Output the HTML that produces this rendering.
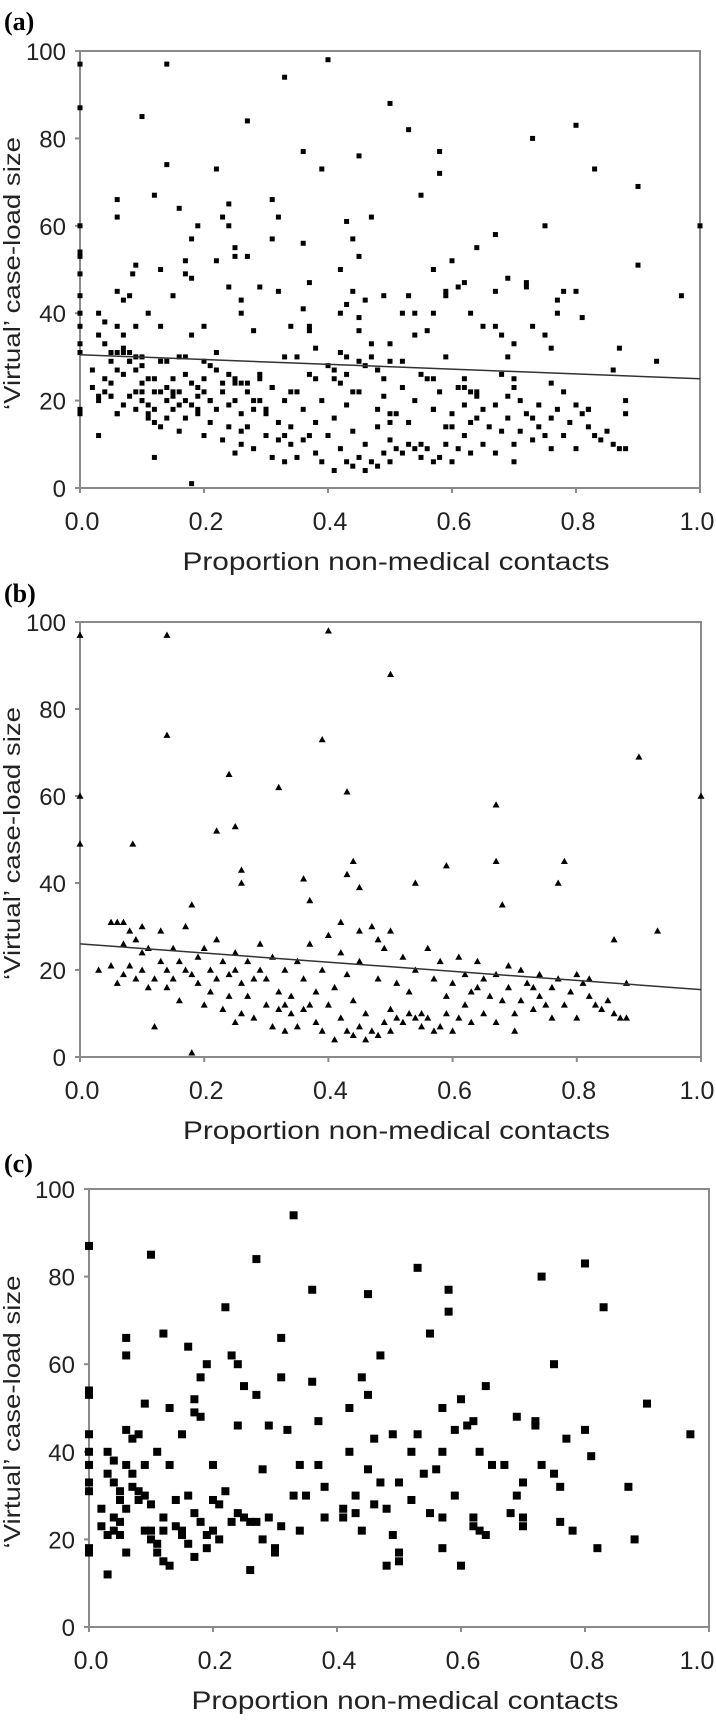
<!DOCTYPE html>
<html><head><meta charset="utf-8"><style>
html,body{margin:0;padding:0;background:#fff;}
svg{display:block;font-family:"Liberation Sans",sans-serif;}
</style></head><body>
<svg id="fig" width="716" height="1720" viewBox="0 0 716 1720" xmlns="http://www.w3.org/2000/svg"></svg>
<script>
// ---- data: panel (b) non-medical low-load series (triangles) ----
const bX = [0,0,0,0.14,0.14,0.40,0.39,0.50,0.90,1.0,0.93,0.085,0.24,0.22,0.25,0.26,0.26,0.32,0.36,0.43,0.44,0.43,0.45,0.54,0.59,0.67,0.67,0.68,0.78,0.77,0.18,0.37,0.42,0.86,
0.03,0.05,0.05,0.06,0.06,0.07,0.07,0.07,0.08,0.08,0.09,0.09,0.10,0.10,0.10,0.11,0.11,0.12,0.12,0.13,0.13,0.14,0.14,0.15,0.15,0.16,0.16,0.17,0.17,0.18,0.18,0.19,0.19,0.20,0.20,0.21,0.21,0.22,0.22,0.23,0.23,0.24,0.24,0.25,0.25,0.25,0.26,0.26,0.27,0.27,0.28,0.28,0.29,0.29,0.30,0.30,0.31,0.31,0.32,0.32,0.33,0.33,0.33,0.34,0.34,0.35,0.35,0.36,0.36,0.37,0.37,0.38,0.38,0.39,0.39,0.40,0.40,0.41,0.41,0.42,0.42,0.43,0.43,0.44,0.44,0.45,0.45,0.45,0.46,0.46,0.47,0.47,0.48,0.48,0.48,0.49,0.49,0.50,0.50,0.50,0.51,0.51,0.52,0.52,0.53,0.53,0.54,0.54,0.55,0.55,0.56,0.56,0.57,0.57,0.58,0.58,0.59,0.59,0.60,0.60,0.61,0.61,0.62,0.62,0.63,0.63,0.64,0.64,0.65,0.65,0.66,0.67,0.67,0.68,0.69,0.69,0.70,0.70,0.71,0.71,0.72,0.73,0.73,0.74,0.74,0.75,0.76,0.76,0.77,0.78,0.79,0.80,0.80,0.81,0.82,0.82,0.83,0.84,0.85,0.86,0.87,0.88,0.88];
const bY = [97,60,49,97,74,98,73,88,69,60,29,49,65,52,53,43,40,62,41,61,45,42,39,40,44,58,45,35,45,40,35,36,31,27,
20,21,31,17,31,26,31,19,29,21,18,27,24,20,30,16,25,7,18,22,29,20,16,25,18,22,13,30,20,1,19,17,23,25,12,20,15,18,27,11,22,14,19,8,20,24,17,10,22,14,18,9,20,26,12,18,7,23,15,11,12,20,6,14,10,22,7,18,11,12,26,15,8,6,20,12,28,4,16,9,24,6,19,5,13,7,29,22,4,10,6,30,5,18,27,8,25,6,11,29,9,17,8,23,10,15,9,20,7,10,9,25,6,18,7,22,10,14,6,17,9,23,12,19,15,8,22,16,18,10,14,19,8,13,16,21,10,6,13,20,17,11,16,14,19,12,16,9,18,12,15,19,9,17,14,18,12,11,13,10,9,17,9];
// ---- data: panel (c) medical series (squares) ----
const cX = [0,0,0,0,0,0,0,0,0,0,0.02,0.02,0.03,0.03,0.03,0.03,0.04,0.04,0.04,0.04,0.05,0.05,0.05,0.05,0.06,0.06,0.06,0.06,0.06,0.06,0.07,0.07,0.07,0.08,0.08,0.08,0.09,0.09,0.09,0.09,0.10,0.10,0.10,0.10,0.11,0.11,0.11,0.12,0.12,0.12,0.12,0.13,0.13,0.13,0.14,0.14,0.15,0.15,0.15,0.16,0.16,0.16,0.17,0.17,0.17,0.17,0.18,0.18,0.18,0.19,0.19,0.19,0.20,0.20,0.20,0.21,0.21,0.22,0.22,0.23,0.23,0.24,0.24,0.24,0.25,0.25,0.26,0.26,0.27,0.27,0.27,0.28,0.28,0.29,0.29,0.30,0.30,0.31,0.31,0.31,0.32,0.33,0.33,0.34,0.34,0.35,0.36,0.36,0.37,0.37,0.38,0.38,0.41,0.41,0.42,0.42,0.43,0.43,0.44,0.44,0.45,0.45,0.45,0.46,0.46,0.47,0.47,0.48,0.48,0.49,0.49,0.50,0.50,0.50,0.52,0.52,0.53,0.53,0.54,0.55,0.55,0.56,0.57,0.57,0.57,0.57,0.58,0.58,0.59,0.59,0.60,0.60,0.61,0.62,0.62,0.62,0.63,0.63,0.64,0.64,0.65,0.67,0.68,0.69,0.69,0.70,0.70,0.70,0.72,0.72,0.73,0.73,0.75,0.75,0.76,0.76,0.77,0.78,0.80,0.80,0.81,0.82,0.83,0.87,0.88,0.90,0.97];
const cY = [87,54,53,44,40,37,33,31,18,17,27,23,12,35,40,21,38,33,25,22,31,29,24,21,66,62,45,37,27,17,43,35,32,44,31,29,51,37,30,22,85,28,22,20,19,17,40,67,25,15,22,14,50,37,29,23,44,22,21,64,30,19,52,49,26,16,48,57,24,60,18,21,29,22,37,20,28,73,31,62,24,46,60,26,55,25,13,24,84,53,24,36,20,46,25,18,17,66,57,23,45,94,30,37,22,30,77,56,47,37,32,25,27,25,50,40,30,26,57,22,76,53,36,28,43,62,33,27,14,21,44,15,17,33,40,29,82,44,35,67,26,36,50,40,18,25,72,77,30,45,52,14,46,47,25,23,40,22,55,21,37,37,26,48,30,33,25,23,47,46,80,37,60,35,24,32,43,22,83,45,39,18,73,32,20,51,44];
// panel (a) = all contacts = union of both series
const aX = bX.concat(cX);
const aY = bY.concat(cY);
// regression lines (value at x=0 and x=1)
const aFit = [30.5, 25];
const bFit = [26, 15.5];
const xTicks = ["0.0","0.2","0.4","0.6","0.8","1.0"];
const yTicks = ["0","20","40","60","80","100"];

const NS = "http://www.w3.org/2000/svg";
const svg = document.getElementById("fig");
function mk(tag, attrs, parent){ const e=document.createElementNS(NS,tag); for(const k in attrs) e.setAttribute(k,attrs[k]); (parent||svg).appendChild(e); return e; }

function panel(cfg){
  const g = mk("g",{});
  
  
  const sx = v => cfg.x0 + v*(cfg.x1-cfg.x0);
  const sy = v => cfg.y0 - v/100*(cfg.y0-cfg.y100);
  const lab = mk("text",{x:4,y:cfg.labY,"font-family":"Liberation Serif, serif","font-weight":"bold","font-size":26},g);
  lab.textContent = "(" + cfg.id + ")";
  
  
  const fr = mk("rect",{x:cfg.x0,y:cfg.y100,width:cfg.x1-cfg.x0,height:cfg.y0-cfg.y100,fill:"none",stroke:"#8a8a8a","stroke-width":2},g);
  
  
  yTicks.forEach((t,i)=>{
    const v = +t, y = sy(v);
    mk("line",{x1:cfg.x0-5,x2:cfg.x0,y1:y,y2:y,stroke:"#8a8a8a","stroke-width":2},g);
    const tx = mk("text",{x:cfg.x0-14,y:y+9,"text-anchor":"end","font-size":24,fill:"#222"},g);
    tx.textContent = t;
    
    
  });
  xTicks.forEach(t=>{
    const x = sx(+t);
    mk("line",{x1:x,x2:x,y1:cfg.y0,y2:cfg.y0+5,stroke:"#8a8a8a","stroke-width":2},g);
    const tx = mk("text",{x:Math.min(x+2,697),y:cfg.y0+42,"text-anchor":"middle","font-size":25,fill:"#222"},g);
    tx.textContent = t;
    
    
  });
  const xt = mk("text",{x:(cfg.x0+cfg.x1)/2+6,y:cfg.y0+82,"text-anchor":"middle","font-size":25,fill:"#222",textLength:427,lengthAdjust:"spacingAndGlyphs"},g);
  xt.textContent = "Proportion non-medical contacts";
  
  
  const cy = (cfg.y0+cfg.y100)/2 + 4;
  const yt = mk("text",{x:0,y:0,"text-anchor":"middle","font-size":23,fill:"#222",transform:"translate(20,"+cy+") rotate(-90)",textLength:273,lengthAdjust:"spacingAndGlyphs"},g);
  yt.textContent = "\u2018Virtual\u2019 case-load size";
  
  
  const pts = mk("g",{fill:"#000"},g);
  
  
  cfg.xs.forEach((xv,i)=>{
    const px = sx(xv), py = sy(cfg.ys[i]);
    let p;
    if(cfg.marker==="tri"){
      const s=cfg.size;
      p = mk("polygon",{points:(px-s/2)+","+(py+s/2.5)+" "+(px+s/2)+","+(py+s/2.5)+" "+px+","+(py-s/2)},pts);
    } else {
      p = mk("rect",{x:px-cfg.size/2,y:py-cfg.size/2,width:cfg.size,height:cfg.size},pts);
    }
    
    
  });
  if(cfg.fit){
    const ln = mk("line",{x1:sx(0),y1:sy(cfg.fit[0]),x2:sx(1),y2:sy(cfg.fit[1]),stroke:"#333","stroke-width":1.5},g);
    
    
  }
}
panel({id:"a",labY:30,x0:80,x1:700,y100:51,y0:488,xs:aX,ys:aY,marker:"sq",size:5,fit:aFit});
panel({id:"b",labY:602,x0:80,x1:701,y100:622,y0:1057,xs:bX,ys:bY,marker:"tri",size:7,fit:bFit});
panel({id:"c",labY:1172,x0:89,x1:709,y100:1189,y0:1627,xs:cX,ys:cY,marker:"sq",size:8,fit:null});
</script>
</body></html>
